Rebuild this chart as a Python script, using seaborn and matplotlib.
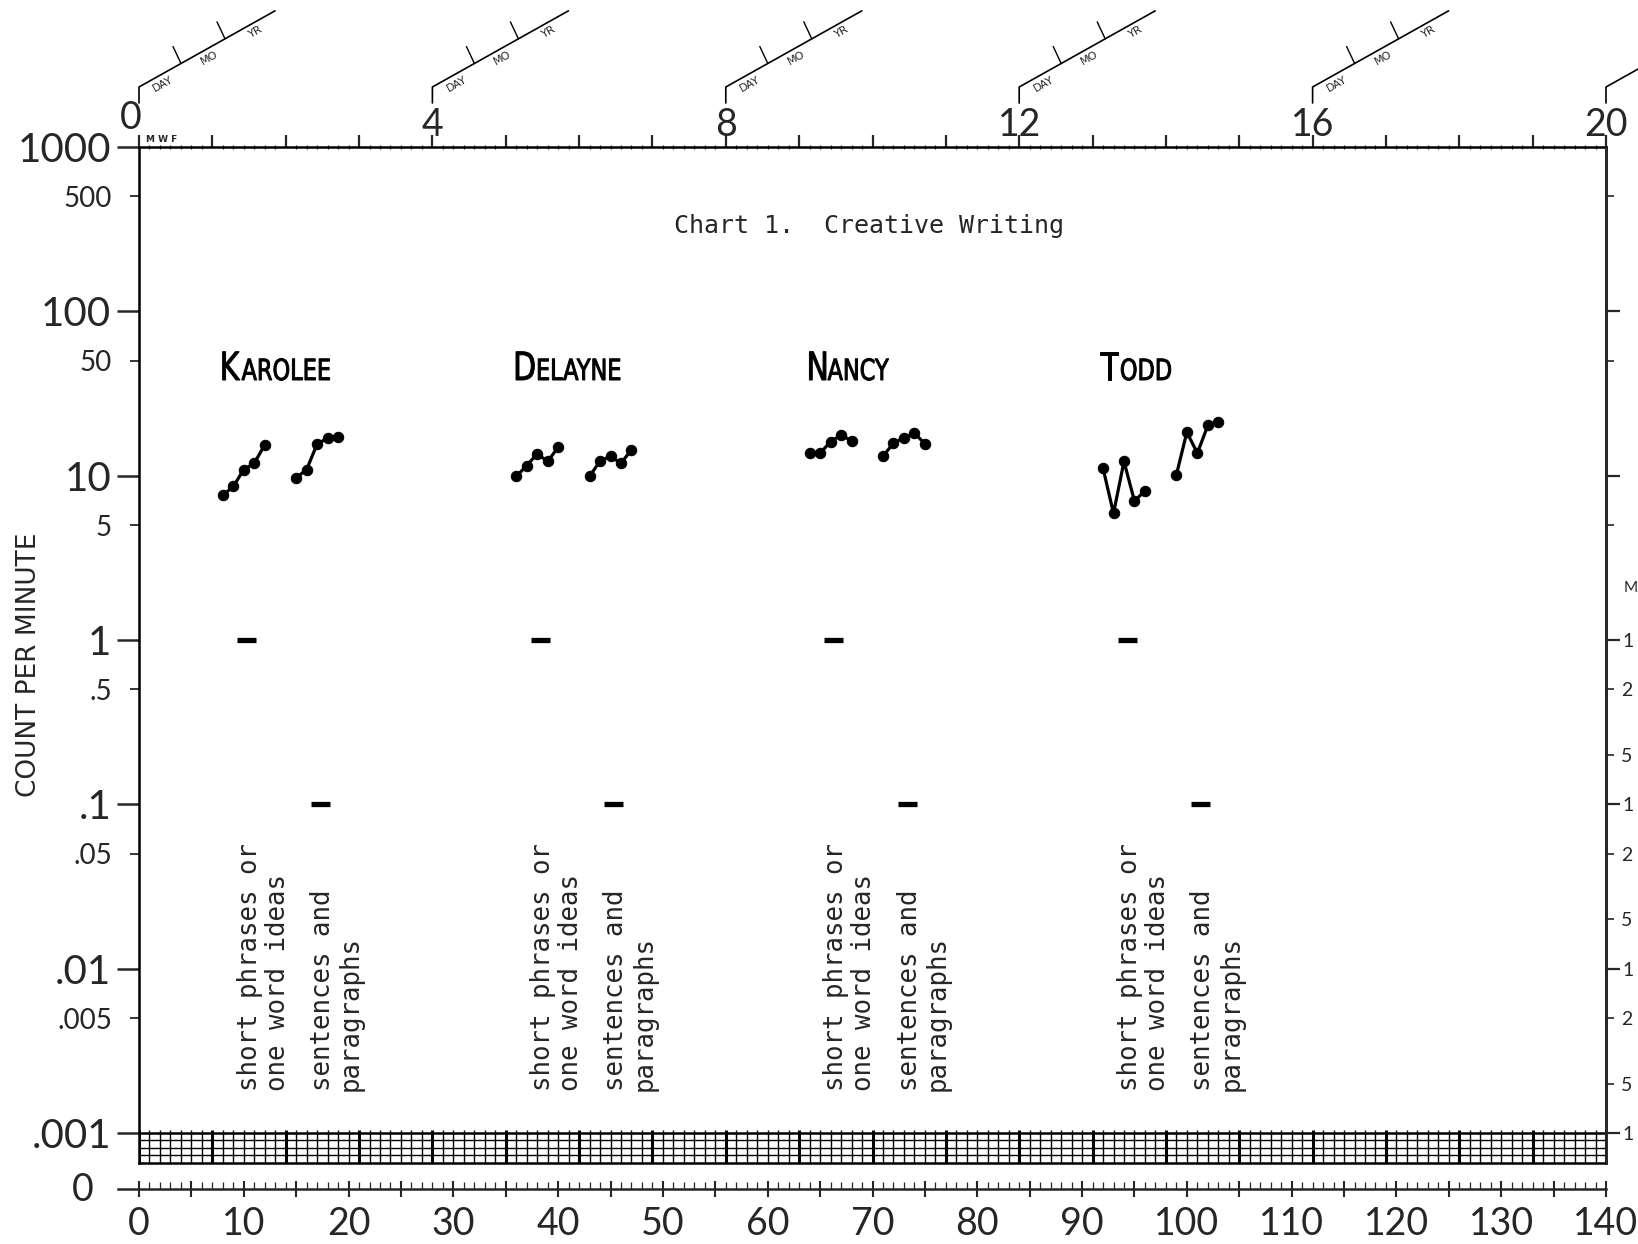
import numpy as np
import pandas as pd
import matplotlib.pyplot as plt
import matplotlib.ticker as mticker
import matplotlib.transforms as mtransforms
from matplotlib.lines import Line2D
from matplotlib.textpath import TextPath
from matplotlib.patches import PathPatch
from matplotlib.font_manager import FontProperties
import seaborn as sns

# counts per minute, per student and phase
students = ["KAROLEE", "DELAYNE", "NANCY", "TODD"]

phrase_days = [[8, 9, 10, 11, 12], [36, 37, 38, 39, 40],
               [64, 65, 66, 67, 68], [92, 93, 94, 95, 96]]
phrase_counts = [[7.6, 8.6, 10.9, 11.9, 15.4], [9.9, 11.5, 13.6, 12.2, 14.9],
                 [13.7, 13.7, 16.1, 17.7, 16.3], [11.1, 5.9, 12.2, 7.0, 8.1]]
sentence_days = [[15, 16, 17, 18, 19], [43, 44, 45, 46, 47],
                 [71, 72, 73, 74, 75], [99, 100, 101, 102, 103]]
sentence_counts = [[9.7, 10.9, 15.6, 16.9, 17.1], [9.9, 12.3, 13.1, 11.9, 14.4],
                   [13.1, 15.8, 17.0, 18.2, 15.6], [10.1, 18.4, 13.7, 20.2, 21.1]]

phrase_floor = 1.0      # record floor (1 minute timing)
sentence_floor = 0.1    # record floor (10 minute timing)
phase_labels = ["short phrases or\none word ideas", "sentences and\nparagraphs"]
title = "Chart 1.  Creative Writing"

week_labels = ["0", "4", "8", "12", "16", "20"]
left_major = [1000, 100, 10, 1, 0.1, 0.01, 0.001]
left_major_labels = ["1000", "100", "10", "1", ".1", ".01", ".001"]
left_minor = [500, 50, 5, 0.5, 0.05, 0.005]
left_minor_labels = ["500", "50", "5", ".5", ".05", ".005"]
# right counting-time scale, only the digits visible on the scan
right_major = [100, 10, 1, 0.1, 0.01, 0.001]
right_major_labels = ["", "", "1", "1", "1", "1"]
right_minor = [500, 50, 5, 0.5, 0.2, 0.05, 0.02, 0.005, 0.002]
right_minor_labels = ["", "", "", "2", "5", "2", "5", "2", "5"]

# long table for seaborn
rows = []
seg = 0
for i, name in enumerate(students):
    for days, counts, phase in [(phrase_days[i], phrase_counts[i], 0),
                                (sentence_days[i], sentence_counts[i], 1)]:
        for d, c in zip(days, counts):
            rows.append({"student": name, "phase": phase, "seg": seg, "day": d, "count": c})
        seg += 1
df = pd.DataFrame(rows)

sns.set_style("white")
plt.rcParams["font.family"] = ["Lato", "DejaVu Sans"]
mono = "DejaVu Sans Mono"

W, H = 1638, 1244
fig = plt.figure(figsize=(W / 100, H / 100), dpi=100)
px_per_pt = 100 / 72

# chart frame in pixels
x_left, x_right, y_top, y_bot = 139, 1606, 147, 1163
decade = 164.33
bottom_exp = -3 - (y_bot - (y_top + 6 * decade)) / decade
ax = fig.add_axes([x_left / W, (H - y_bot) / H, (x_right - x_left) / W, (y_bot - y_top) / H])
ax.set_yscale("log")

sns.lineplot(data=df, x="day", y="count", units="seg", estimator=None, sort=True,
             color="black", marker="o", markersize=7.5, markeredgecolor="black",
             linewidth=2.3, legend=False, ax=ax)

ax.set_xlim(0, 140)
ax.set_ylim(10 ** bottom_exp, 1000)

# record floors
for i in range(len(students)):
    for days, floor in [(phrase_days[i], phrase_floor), (sentence_days[i], sentence_floor)]:
        c = np.mean(days) + 0.3
        ax.hlines(floor, c - 0.9, c + 0.9, colors="black", lw=3.8)

# phase labels
for i in range(len(students)):
    for days, lab in [(phrase_days[i], phase_labels[0]), (sentence_days[i], phase_labels[1])]:
        ax.text(max(days) - 0.1, 0.0018, lab, rotation=90, ha="center", va="bottom",
                multialignment="left", family=mono, fontsize=18.5, linespacing=1.1)

ax.text(69.7, 330, title, family=mono, fontsize=18, ha="center", va="center")

# grid strip below .001
lo = 10 ** bottom_exp
all_days = np.arange(0, 141)
ax.vlines(all_days, lo, 10 ** (-3 + 3 / decade), colors="black",
          lw=[2.2 if d % 7 == 0 else 1.0 for d in all_days])
for k in range(1, 4):
    ax.hlines(10 ** (-3 + k * (bottom_exp + 3) / 4), 0, 140, colors="black", lw=1.0)
ax.hlines(0.001, 0, 140, colors="black", lw=1.8)

# axes ticks (week 0 label drawn by hand, it sits left of the corner)
ax.set_xlabel("")
ax.xaxis.set_ticks_position("top")
ax.xaxis.set_major_locator(mticker.FixedLocator(list(range(0, 141, 7))))
ax.xaxis.set_major_formatter(mticker.FixedFormatter(
    [week_labels[d // 28] if d % 28 == 0 and d > 0 else "" for d in range(0, 141, 7)]))
ax.xaxis.set_minor_locator(mticker.FixedLocator(list(range(0, 141))))
ax.tick_params(axis="x", which="major", top=True, bottom=False, labeltop=True,
               labelbottom=False, direction="out", length=9, width=1.6, pad=-6, labelsize=27)
ax.tick_params(axis="x", which="minor", top=True, bottom=False, direction="inout",
               length=3, width=0.9)
ax.annotate(week_labels[0], xy=(0, 1), xycoords="axes fraction", xytext=(-6, 8),
            textcoords="offset points", ha="center", va="bottom", fontsize=27)

ax.yaxis.set_major_locator(mticker.FixedLocator(left_major))
ax.yaxis.set_major_formatter(mticker.FixedFormatter(left_major_labels))
ax.yaxis.set_minor_locator(mticker.FixedLocator(left_minor))
ax.yaxis.set_minor_formatter(mticker.FixedFormatter(left_minor_labels))
ax.tick_params(axis="y", which="major", left=True, right=False, direction="out",
               length=16, width=1.8, pad=4, labelsize=29)
ax.tick_params(axis="y", which="minor", left=True, right=False, direction="out",
               length=6.5, width=1.3, pad=13, labelsize=20)
ax.set_ylabel("COUNT PER MINUTE", fontsize=19, family="DejaVu Sans")
ax.yaxis.set_label_coords(-0.066, 0.49)

for s in ax.spines.values():
    s.set_linewidth(1.8)
    s.set_color("black")

ax.text(0.7, 10 ** (3 + 7 / decade), "M W F", fontsize=6.5, weight="bold",
        family="DejaVu Sans", va="center")

# right counting-time scale
ax2 = ax.twinx()
ax2.set_yscale("log")
ax2.set_ylim(ax.get_ylim())
ax2.yaxis.set_major_locator(mticker.FixedLocator(right_major))
ax2.yaxis.set_major_formatter(mticker.FixedFormatter(right_major_labels))
ax2.yaxis.set_minor_locator(mticker.FixedLocator(right_minor))
ax2.yaxis.set_minor_formatter(mticker.FixedFormatter(right_minor_labels))
ax2.tick_params(axis="y", which="major", right=True, direction="out", length=10,
                width=1.6, pad=2, labelsize=14)
ax2.tick_params(axis="y", which="minor", right=True, direction="out", length=6,
                width=1.2, pad=5, labelsize=14)
for side in ["top", "left", "bottom"]:
    ax2.spines[side].set_visible(False)
ax2.spines["right"].set_linewidth(1.8)
fig.text(1624 / W, (H - 588) / H, "M", fontsize=11, va="center", ha="left")

# zero line with calendar days
x0_left = 118
ax0 = fig.add_axes([x0_left / W, (H - 1189) / H, (x_right - x0_left) / W, 1e-4])
ax0.set_xlim(-(x_left - x0_left) / ((x_right - x_left) / 140), 140)
ax0.set_yticks([])
for side in ["top", "left", "right"]:
    ax0.spines[side].set_visible(False)
ax0.spines["bottom"].set_linewidth(1.8)
ax0.xaxis.set_major_locator(mticker.FixedLocator(list(range(0, 141, 5))))
ax0.xaxis.set_major_formatter(mticker.FixedFormatter(
    [str(d) if d % 10 == 0 else "" for d in range(0, 141, 5)]))
ax0.xaxis.set_minor_locator(mticker.FixedLocator(list(range(0, 141))))
ax0.tick_params(axis="x", which="major", bottom=True, direction="inout", length=12,
                width=1.5, pad=6, labelsize=27)
ax0.tick_params(axis="x", which="minor", bottom=True, direction="in", length=5, width=0.9)
fig.text(83 / W, (H - 1190) / H, "0", fontsize=27, ha="center", va="center")

ident = mtransforms.IdentityTransform()

# student names in narrow small caps (first letter large)
fp_big = FontProperties(family="DejaVu Sans", size=28)
fp_small = FontProperties(family="DejaVu Sans", size=21)
squeeze = 0.77
for i, name in enumerate(students):
    bx, by = ax.transData.transform((phrase_days[i][0] - 0.3, 38.2))
    p1 = TextPath((0, 0), name[0], prop=fp_big)
    p2 = TextPath((0, 0), name[1:], prop=fp_small)
    adv = p1.get_extents().x1 + 1.5
    for path, off in [(p1, 0), (p2, adv)]:
        tr = mtransforms.Affine2D().translate(off, 0).scale(squeeze * px_per_pt, px_per_pt) \
            .translate(bx, by)
        fig.add_artist(PathPatch(path, transform=tr, facecolor="black",
                                 edgecolor="black", lw=0.7))

# celeration guides above each week label
slope = 0.56
ang = np.degrees(np.arctan(slope))
perp = np.array([np.sin(np.radians(ang)), -np.cos(np.radians(ang))]) * 9
for wk in range(0, 141, 28):
    px, py = ax.transData.transform((wk, 1000))
    fig.add_artist(Line2D([px, px, px + 136], [py + 44, py + 60, py + 60 + 136 * slope],
                          transform=ident, color="black", lw=1.2))
    for dx in [42, 86]:
        yb = py + 60 + dx * slope
        fig.add_artist(Line2D([px + dx, px + dx - 8], [yb, yb + 17],
                              transform=ident, color="black", lw=1.0))
    for dx, lab in [(20, "DAY"), (66, "MO"), (112, "YR")]:
        tx = px + dx + perp[0]
        ty = py + 60 + dx * slope + perp[1]
        if tx > W - 8:
            continue  # off the sheet, as on the scan
        fig.text(tx, ty, lab, transform=ident, rotation=ang, rotation_mode="anchor",
                 ha="center", va="center", fontsize=8, family="DejaVu Sans")

fig.savefig("out.png", dpi=100, facecolor="white")
